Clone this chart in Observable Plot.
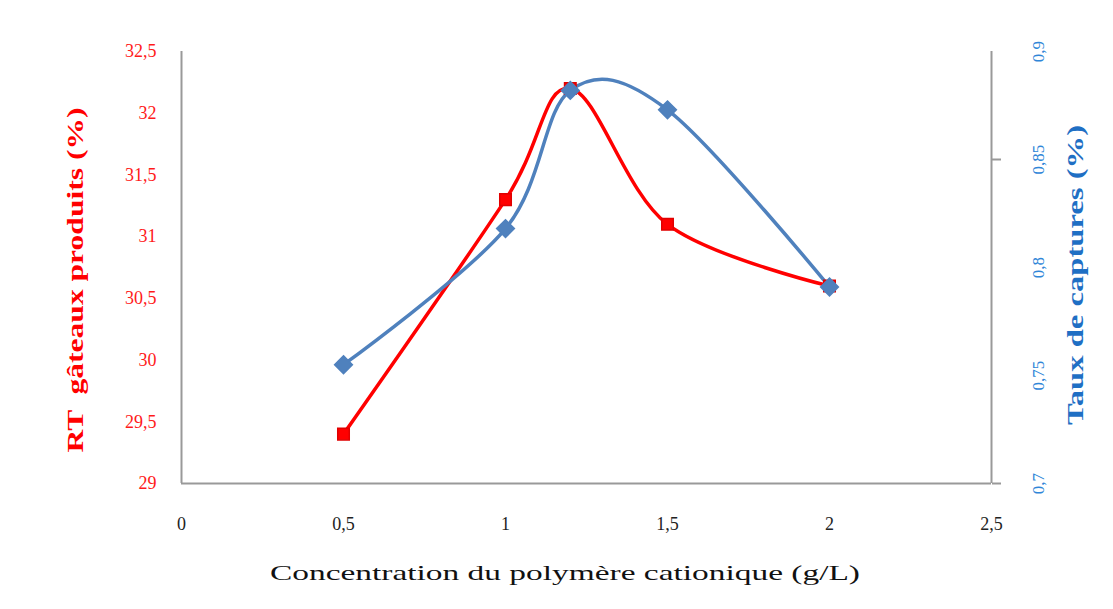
<!DOCTYPE html>
<html>
<head>
<meta charset="utf-8">
<script src="https://cdn.jsdelivr.net/npm/d3@7"></script>
<script src="https://cdn.jsdelivr.net/npm/@observablehq/plot@0.6"></script>
<style>
  html, body { margin: 0; padding: 0; background: #fff; }
  #wrap { position: relative; width: 1113px; height: 609px; overflow: hidden; }
  #frame { position: absolute; left: 9px; top: 13px; width: 3px; height: 600px; background: #a6a6a6; }
  #chart { position: absolute; left: 0; top: 0; }
</style>
</head>
<body>
<div id="wrap"><div id="frame"></div><div id="chart"></div></div>
<script>
// Data
const concentration = [0.5, 1, 1.2, 1.5, 2];
const rtGateaux = [29.4, 31.3, 32.2, 31.1, 30.6];       // left axis (%)
const tauxCaptures = [0.755, 0.818, 0.882, 0.873, 0.791]; // right axis (%)
const xTicks = [0, 0.5, 1, 1.5, 2, 2.5];
const leftTicks = [29, 29.5, 30, 30.5, 31, 31.5, 32, 32.5];
const rightTicks = [0.7, 0.75, 0.8, 0.85, 0.9];
const rightTickMarks = [0.7, 0.85];

const leftDomain = [29, 32.5];
const rightDomain = [0.7, 0.9];
const toLeft = v => leftDomain[0] + (v - rightDomain[0]) * (leftDomain[1] - leftDomain[0]) / (rightDomain[1] - rightDomain[0]);
const toRight = v => rightDomain[0] + (v - leftDomain[0]) * (rightDomain[1] - rightDomain[0]) / (leftDomain[1] - leftDomain[0]);
const fmt = d => String(+d.toFixed(2)).replace(".", ",");

const red = concentration.map((x, i) => ({x, y: rtGateaux[i]}));
const blue = concentration.map((x, i) => ({x, y: toLeft(tauxCaptures[i])}));

const W = 1113, H = 609;
const serif = "'Liberation Serif', 'DejaVu Serif', serif";
const chart = Plot.plot({
  width: W,
  height: H,
  marginLeft: 181,
  marginRight: 122,
  marginTop: 51,
  marginBottom: 126,
  style: {fontFamily: serif, background: "white"},
  x: {domain: [0, 2.5]},
  y: {domain: leftDomain},
  marks: [
    Plot.axisX({ticks: xTicks, tickFormat: fmt, tickSize: 0, tickPadding: 34, fontSize: 18, fill: "#222", label: null}),
    Plot.axisY({anchor: "left", ticks: leftTicks, tickFormat: fmt, tickSize: 0, tickPadding: 25, fontSize: 18, fill: "#ff1a1a", label: null}),
    Plot.axisY({anchor: "right", ticks: rightTickMarks.map(toLeft), tickFormat: () => "", tickSize: 9, stroke: "#999", strokeWidth: 2, strokeOpacity: 1, label: null}),
    Plot.axisY({anchor: "right", ticks: rightTicks.map(toLeft), tickFormat: d => fmt(toRight(d)), tickSize: 0, tickPadding: 52, tickRotate: -90, fontSize: 17, fill: "#2f86d8", label: null}),
    Plot.ruleX([0], {stroke: "#999", strokeWidth: 2}),
    Plot.ruleX([2.5], {stroke: "#999", strokeWidth: 2}),
    Plot.ruleY([29], {stroke: "#999", strokeWidth: 2}),
    Plot.line(red, {x: "x", y: "y", stroke: "#ff0000", strokeWidth: 3.5, curve: "cardinal", tension: 0}),
    Plot.line(blue, {x: "x", y: "y", stroke: "#4f81bd", strokeWidth: 3.5, curve: "cardinal", tension: 0}),
    Plot.dot(red, {x: "x", y: "y", symbol: "square", r: 6.5, fill: "#ff0000", stroke: "#e00000"}),
    Plot.dot(blue, {x: "x", y: "y", symbol: "diamond2", r: 8, fill: "#4f81bd", stroke: "#4f81bd"})
  ]
});
document.getElementById("chart").appendChild(chart);

// Axis titles
const svg = d3.select(chart);
const xs = chart.scale("x"), ys = chart.scale("y");
const midY = (ys.apply(leftDomain[0]) + ys.apply(leftDomain[1])) / 2;
svg.append("text")
  .attr("transform", `translate(${(xs.apply(0) + xs.apply(2.5)) / 2 - 21},${H - 29}) `)
  .attr("text-anchor", "middle")
  .attr("font-family", serif)
  .attr("font-size", 22)
  .attr("fill", "#111")
  .attr("textLength", 590)
  .attr("lengthAdjust", "spacingAndGlyphs")
  .text("Concentration du polymère cationique (g/L)");
svg.append("text")
  .attr("transform", `translate(83,${midY + 13}) rotate(-90)`)
  .attr("text-anchor", "middle")
  .attr("font-family", serif)
  .attr("font-weight", "bold")
  .attr("font-size", 24)
  .attr("fill", "#ff0000")
  .attr("textLength", 345)
  .attr("lengthAdjust", "spacingAndGlyphs")
  .text("RT  gâteaux produits (%)");
svg.append("text")
  .attr("transform", `translate(1083,${midY + 8}) rotate(-90)`)
  .attr("text-anchor", "middle")
  .attr("font-family", serif)
  .attr("font-weight", "bold")
  .attr("font-size", 24)
  .attr("fill", "#1f6fc4")
  .attr("textLength", 300)
  .attr("lengthAdjust", "spacingAndGlyphs")
  .text("Taux de captures (%)");
</script>
</body>
</html>
